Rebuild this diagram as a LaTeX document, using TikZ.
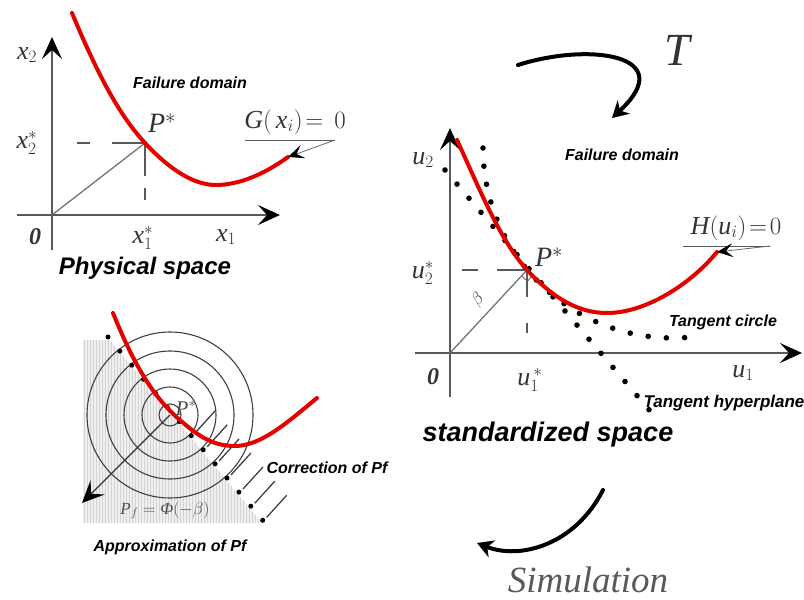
\documentclass[tikz,border=0pt]{standalone}
\usepackage{fontspec}
\setmainfont{Liberation Serif}
\setsansfont{Liberation Sans}
\usetikzlibrary{arrows.meta,patterns}

\tikzset{
  axisline/.style={line width=2pt, draw=black!65, -{Stealth[length=22pt,width=20pt,inset=9pt,color=black]}},
  limitstate/.style={line width=4pt, draw=red!90!black, line cap=round},
  opray/.style={line width=1.3pt, draw=black!55},
  guide/.style={line width=1.6pt, draw=black!65},
  pointer/.style={line width=0.8pt, draw=black!60, -{Stealth[length=16pt,width=14pt,inset=7pt,color=black]}},
  bigarrow/.style={line width=4pt, line cap=round, -{Stealth[length=16pt,width=18pt,inset=5pt]}},
  ring/.style={line width=1.1pt, draw=black!75},
  domainlabel/.style={font=\sffamily\bfseries\itshape\fontsize{16}{18}\selectfont},
  spacelabel/.style={font=\sffamily\bfseries\itshape\fontsize{24}{26}\selectfont},
  sym/.style={text=black!80, font=\fontsize{26}{28}\selectfont},
}

\begin{document}
\begin{tikzpicture}[x=1pt, y=-1pt]
\useasboundingbox (0,0) rectangle (804,600);

% physical space
\coordinate (O1) at (52,215);
\coordinate (Y1) at (52,37);
\coordinate (Y1b) at (52,250);
\coordinate (X1) at (280,215);
\coordinate (X1b) at (17,215);
\coordinate (P1) at (145,143);
\coordinate (G1) at (288,157);
\coordinate (Gl) at (245,140);
\coordinate (Gr) at (335,140);
\draw[axisline] (Y1b) -- (Y1);
\draw[axisline] (X1b) -- (X1);
\draw[opray] (O1) -- (P1);
\draw[guide, dash pattern=on 33pt off 22pt on 13pt off 40pt] (P1) -- (P1 -| O1);
\draw[guide, dash pattern=on 33pt off 12pt on 12pt off 40pt] (P1) -- (P1 |- O1);
\draw[limitstate] (72,13) .. controls (100,80) and (121,117) .. (P1)
  .. controls (170,170) and (195,186) .. (218,185) .. controls (245,184) and (270,170) .. (G1);
\draw[guide, line width=1pt] (Gl) -- (Gr);
\draw[pointer] (Gr) -- (G1);
\node (x2) [sym] at (27,55) {$\mathit{x}_{2}$};
\node (x2s) [sym] at (27,143) {$\mathit{x}_{2}^{*}$};
\node (x1s) [sym] at (143,238) {$\mathit{x}_{1}^{*}$};
\node (x1) [sym] at (226,237) {$\mathit{x}_{1}$};
\node (o1) [sym, font=\bfseries\itshape\fontsize{24}{26}\selectfont] at (35,237) {0};
\node (p1) [sym, font=\fontsize{28}{30}\selectfont] at (162,123) {$\mathit{P}^{*}$};
\node (g) [sym] at (295,122) {$\mathit{G}(\,\mathit{x}_{i})\!=\,0$};
\node (fd1) [domainlabel] at (190,83) {Failure domain};
\node (phys) [spacelabel] at (145,268) {Physical space};

% transformation arrows
\coordinate (Ts) at (518,65);
\coordinate (Te) at (612,118);
\draw[bigarrow] (Ts) .. controls (590,42) and (680,55) .. (Te);
\node (T) [text=black!80, font=\itshape\fontsize{46}{48}\selectfont] at (677,50) {T};
\coordinate (Ss) at (603,490);
\coordinate (Se) at (477,543);
\draw[bigarrow] (Ss) .. controls (575,545) and (520,560) .. (Se);
\node (sim) [text=black!65, font=\itshape\fontsize{37}{39}\selectfont, anchor=base, inner sep=0pt] at (588,592) {Simulation};

% standardized space
\coordinate (O2) at (450,353);
\coordinate (Y2) at (450,128);
\coordinate (Y2b) at (450,397);
\coordinate (X2) at (802,353);
\coordinate (X2b) at (415,353);
\coordinate (P2) at (527,270);
\coordinate (C2) at (673,148);
\coordinate (H2) at (717,252);
\coordinate (Hl) at (683,246);
\coordinate (Hr) at (770,246);
\draw[axisline] (Y2b) -- (Y2);
\draw[axisline] (X2b) -- (X2);
\draw[opray] (O2) -- (P2);
\draw[opray, line width=1pt] (521.6,275.9) -- (527.4,281.3) -- (532.8,275.4);
\draw[guide, dash pattern=on 30pt off 19pt on 16pt off 40pt] (P2) -- (P2 -| O2);
\draw[guide, dash pattern=on 27pt off 26pt on 10pt off 40pt] (P2) -- (527,345);
\foreach \a in {180,174.5,...,86} \fill (C2) ++(\a:190) circle (2.8);
\foreach \t in {0,...,17} \fill (445+12*\t,170+14.1*\t) circle (2.8);
\draw[limitstate] (457,140) .. controls (480,190) and (500,240) .. (P2)
  .. controls (555,300) and (580,313) .. (607,313) .. controls (645,313) and (690,285) .. (H2);
\draw[guide, line width=1pt] (Hl) -- (Hr);
\draw[pointer] (Hr) -- (H2);
\node (u2) [sym] at (423,160) {$\mathit{u}_{2}$};
\node (u2s) [sym] at (423,273) {$\mathit{u}_{2}^{*}$};
\node (u1s) [sym] at (530,380) {$\mathit{u}_{1}^{\,*}$};
\node (u1) [sym] at (743,373) {$\mathit{u}_{1}$};
\node (o2) [sym, font=\bfseries\itshape\fontsize{24}{26}\selectfont] at (433,377) {0};
\node (p2) [sym, font=\fontsize{28}{30}\selectfont] at (549,257) {$\mathit{P}^{*}$};
\node (beta) [sym, font=\fontsize{18}{20}\selectfont, rotate=47] at (478,300) {$\beta$};
\node (h) [sym] at (736,228) {$\mathit{H}(\mathit{u}_{i})\!=\!0$};
\node (fd2) [domainlabel] at (622,155) {Failure domain};
\node (tc) [domainlabel] at (723,322) {Tangent circle};
\node (th) [domainlabel, font=\sffamily\bfseries\itshape\fontsize{17}{19}\selectfont] at (724,403) {Tangent hyperplane};
\node (std) [spacelabel, font=\sffamily\bfseries\itshape\fontsize{27}{29}\selectfont] at (548,435) {standardized space};

% approximation and correction
\coordinate (C3) at (170,415);
\coordinate (A3) at (82,503);
\fill[gray!12] (83,340) -- (110,340) -- (262,523) -- (83,523) -- cycle;
\fill[pattern=vertical lines, pattern color=gray!35] (83,340) -- (110,340) -- (262,523) -- (83,523) -- cycle;
\foreach \r in {83,64,46,28,11} \draw[ring] (C3) circle (\r);
\foreach \t in {0,...,13} \fill (108+11.9*\t,337+14.1*\t) circle (2.5);
\foreach \t in {7,...,13} \draw[line width=1.3pt, black!75] (112+11.9*\t,334+14.1*\t) -- ++(20,-22);
\draw[axisline, draw=black!80, line width=1.4pt] (C3) -- (A3);
\draw[limitstate] (113,313) .. controls (130,355) and (150,395) .. (180,420)
  .. controls (200,438) and (215,446) .. (235,446) .. controls (262,446) and (290,420) .. (317,398);
\node (p3) [sym, text=black!70, font=\fontsize{21}{23}\selectfont] at (186,408) {$\mathit{P}^{*}$};
\node (pf) [sym, text=black!70, font=\fontsize{17}{19}\selectfont] at (165,510) {$\mathit{P}_{f}=\mbox{\itshape Φ}(-\beta)$};
\node (corr) [domainlabel] at (327,468) {Correction of Pf};
\node (appr) [domainlabel] at (170,547) {Approximation of Pf};
\end{tikzpicture}
\end{document}
